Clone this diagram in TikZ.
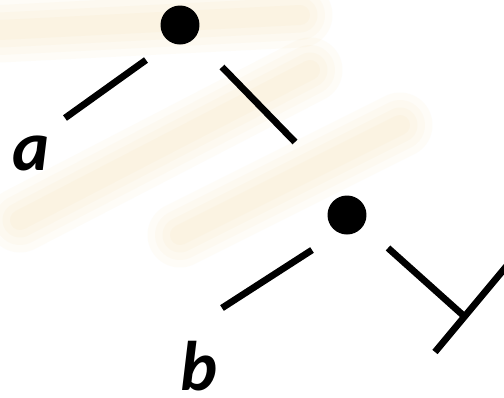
\documentclass[tikz,border=0pt]{standalone}
\usepackage{fontspec}
\setmainfont{Carlito}
\usetikzlibrary{positioning}

\tikzset{
  seg/.style={line width=0.135cm},
  dot/.style={circle, fill=black, inner sep=0pt, minimum size=0.78cm},
  lbl/.style={font=\fontsize{40}{48}\selectfont\bfseries\itshape, inner sep=0pt, text depth=0pt, anchor=base},
  smear/.style={line width=#1, line cap=round, color={rgb,255:red,250;green,205;blue,130}, opacity=0.06}
}

\begin{document}
\begin{tikzpicture}[x=0.02cm,y=-0.02cm]

  \clip (0,0) rectangle (504,397);
  \fill[white] (0,0) rectangle (504,397);

  % background smears
  \foreach \w in {0.4cm,0.7cm,1.0cm,1.3cm}{
    \draw[smear=\w] (0,30) -- (300,15);
    \draw[smear=\w] (20,220) -- (310,70);
    \draw[smear=\w] (180,235) -- (400,125);
  }

  % upper dot
  \node[dot] (top) at (180,25) {};
  \coordinate (ta1) at (65,118);
  \coordinate (ta2) at (146,60);
  \draw[seg] (ta1) -- (ta2);
  \coordinate (tb1) at (222,67);
  \coordinate (tb2) at (295,142);
  \draw[seg] (tb1) -- (tb2);
  \node[lbl] (a) at (31,170) {a};

  % lower dot
  \node[dot] (bot) at (347,215) {};
  \coordinate (ba1) at (222,308);
  \coordinate (ba2) at (312,250);
  \draw[seg] (ba1) -- (ba2);
  \coordinate (bb1) at (388,248);
  \coordinate (bb2) at (465,317);
  \draw[seg] (bb1) -- (bb2);
  \node[lbl] (b) at (199,390) {b};

  % cross bar
  \coordinate (c1) at (435,352);
  \coordinate (c2) at (520,250);
  \draw[seg] (c1) -- (c2);
\end{tikzpicture}
\end{document}
